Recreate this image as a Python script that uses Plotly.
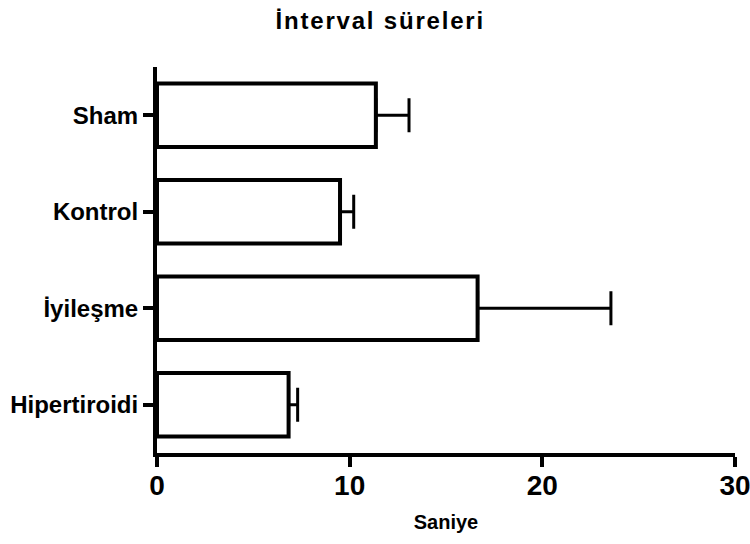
import plotly.graph_objects as go

categories = ["Hipertiroidi", "İyileşme", "Kontrol", "Sham"]
means = [6.83, 16.64, 9.50, 11.36]
errors = [0.47, 6.92, 0.71, 1.72]
x_ticks = [0, 10, 20, 30]
title_text = "İnterval süreleri"
x_title = "Saniye"

fig = go.Figure()
fig.add_trace(go.Bar(
    y=categories,
    x=means,
    orientation="h",
    width=0.66,
    marker=dict(color="white", line=dict(color="black", width=4)),
    error_x=dict(type="data", array=errors, arrayminus=[0] * len(errors),
                 symmetric=False, color="black", thickness=3, width=17),
))

fig.update_layout(
    width=750, height=544,
    margin=dict(l=157, r=15, t=67, b=91),
    plot_bgcolor="white", paper_bgcolor="white",
    showlegend=False,
    title=dict(text='<span style="letter-spacing:1.8px">' + title_text + "</span>",
               x=0.507, xref="container", xanchor="center",
               y=1 - 21 / 544, yref="container", yanchor="middle",
               font=dict(family="Liberation Sans, Arial", size=24, color="black", weight="bold")),
    font=dict(family="Liberation Sans, Arial", color="black"),
)
fig.update_xaxes(
    range=[0, 30], tickvals=x_ticks, ticktext=[str(v) for v in x_ticks],
    showgrid=False, zeroline=False, automargin=False,
    showline=True, linecolor="black", linewidth=4,
    ticks="outside", ticklen=10, tickwidth=4, tickcolor="black",
    ticklabeloverflow="allow", ticklabelstandoff=-6,
    tickfont=dict(size=28, weight="bold"),
    title=dict(text=x_title, font=dict(size=20, weight="bold"), standoff=16),
)
fig.update_yaxes(
    range=[-0.5, 3.5], categoryorder="array", categoryarray=categories,
    showgrid=False, zeroline=False, automargin=False,
    showline=True, linecolor="black", linewidth=4,
    ticks="outside", ticklen=10, tickwidth=4, tickcolor="black",
    tickfont=dict(size=24, weight="bold"),
)

fig.write_html("out.html")
